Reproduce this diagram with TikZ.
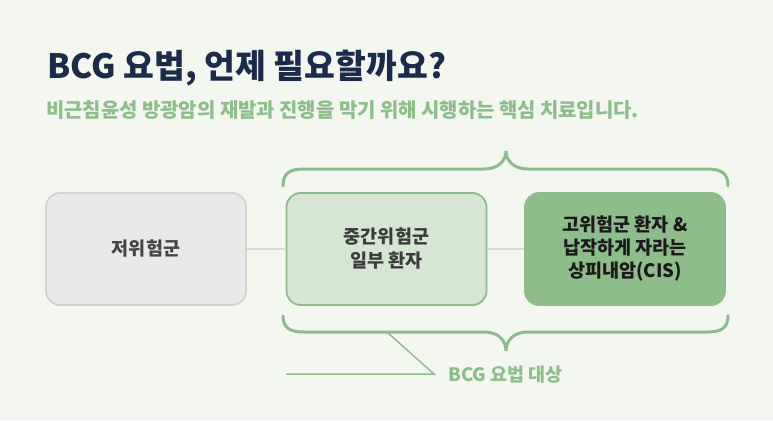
\documentclass[tikz,border=0pt]{standalone}
\usepackage{fontspec}
\setmainfont{Noto Sans CJK KR}
\definecolor{bgc}{HTML}{F4F6F0}
\definecolor{titlec}{HTML}{1C2B4A}
\definecolor{greenc}{HTML}{8DBE8A}
\definecolor{graybox}{HTML}{E9E9E9}
\definecolor{grayline}{HTML}{D3D3D3}
\definecolor{graytext}{HTML}{444444}
\definecolor{lightgreen}{HTML}{D5E6D2}
\definecolor{midgreen}{HTML}{8DBB8B}
\definecolor{darkgreen}{HTML}{8FBC8B}
\definecolor{midtext}{HTML}{3C3C3C}
\definecolor{darktext}{HTML}{1A1A1A}
\definecolor{connc}{HTML}{D6D8D3}
\tikzset{
  box/.style={rounded corners=14pt, minimum width=200pt, minimum height=112pt, line width=1.8pt, align=center, font=\fontsize{18.5}{24}\selectfont\bfseries, inner sep=0pt},
  brace/.style={draw=midgreen, line width=3pt, line cap=round},
  conn/.style={draw=connc, line width=1.8pt},
}
\begin{document}
\begin{tikzpicture}[x=1pt,y=-1pt]
\fill[bgc] (0,0) rectangle (773,420);
\useasboundingbox (0,0) rectangle (773,420);
\node[anchor=base west, text=titlec, font=\fontsize{33.5}{36}\selectfont\bfseries, inner sep=0pt] (title) at (47,78) {BCG 요법, 언제 필요할까요?};
\node[anchor=base west, text=greenc, font=\fontsize{19.9}{22}\selectfont\bfseries, inner sep=0pt] (sub) at (46,117) {비근침윤성 방광암의 재발과 진행을 막기 위해 시행하는 핵심 치료입니다.};
\node[box, fill=graybox, draw=grayline, text=graytext] (b1) at (146,249) {저위험군};
\node[box, fill=lightgreen, draw=midgreen, text=midtext] (b2) at (386.5,249) {중간위험군\\일부 환자};
\node[box, fill=darkgreen, draw=darkgreen, text=darktext, font=\fontsize{18.5}{23}\selectfont\bfseries] (b3) at (625,249) {고위험군 환자 \&\\납작하게 자라는\\상피내암(CIS)};
\draw[conn] (b1.east) -- (b2.west);
\draw[conn] (b2.east) -- (b3.west);
% top brace
\draw[brace] (283,186) .. controls (283,173) and (290,169) .. (304,169) -- (484,169) .. controls (499,169) and (506,160) .. (506,151) .. controls (506,160) and (513,169) .. (528,169) -- (707,169) .. controls (721,169) and (728,173) .. (728,186);
% bottom brace
\draw[brace] (283,316) .. controls (283,328) and (290,332) .. (304,332) -- (484,332) .. controls (499,332) and (506,341) .. (506,351) .. controls (506,341) and (513,332) .. (528,332) -- (707,332) .. controls (721,332) and (728,328) .. (728,316);
\node[anchor=west, text=greenc, font=\fontsize{18.5}{20}\selectfont\bfseries, inner sep=0pt] (lab) at (448,375) {BCG 요법 대상};
\coordinate (lp) at (388,333);
\coordinate (lk) at (434,374);
\coordinate (le) at (286,374);
\draw[draw=greenc, line width=1.5pt] (lp) -- (lk) -- (le);
\end{tikzpicture}
\end{document}
